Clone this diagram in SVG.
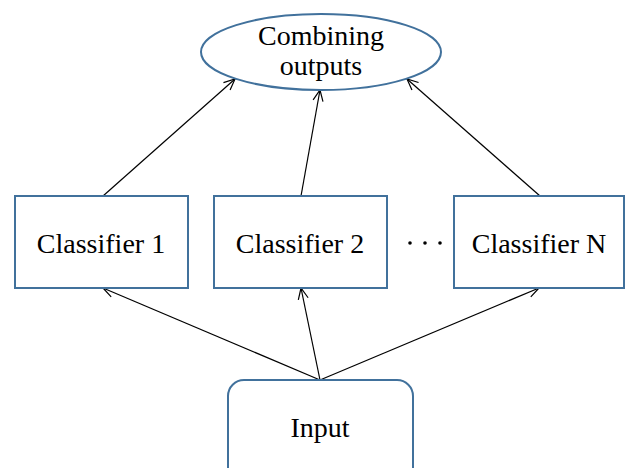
<svg xmlns="http://www.w3.org/2000/svg" width="626" height="468" viewBox="0 0 626 468">
<style>
.n{fill:#fff;stroke:#41719c;stroke-width:2}
.t{font-family:"Liberation Serif","Times New Roman",serif;font-size:28px;fill:#000;text-anchor:middle}
.c{stroke:#000;stroke-width:1.2;fill:none;marker-end:url(#a)}
</style>
<defs>
<marker id="a" markerWidth="14" markerHeight="14" refX="12" refY="6" orient="auto" markerUnits="userSpaceOnUse">
<path d="M1,1 L12,6 L1,11" fill="none" stroke="#000" stroke-width="1.2"/>
</marker>
</defs>
<rect width="626" height="468" fill="#fff"/>
<g id="connectors">
<line class="c" x1="320" y1="380" x2="103" y2="288"/>
<line class="c" x1="320" y1="380" x2="301" y2="288"/>
<line class="c" x1="320" y1="380" x2="539" y2="288"/>
<line class="c" x1="103" y1="196" x2="235" y2="79"/>
<line class="c" x1="301" y1="196" x2="320" y2="90"/>
<line class="c" x1="540" y1="196" x2="407" y2="79"/>
</g>
<g id="combining">
<ellipse class="n" cx="321" cy="52" rx="120" ry="38"/>
<text class="t" x="321" y="45">Combining</text>
<text class="t" x="321" y="75">outputs</text>
</g>
<g id="classifier1">
<rect class="n" x="15" y="196" width="173" height="92"/>
<text class="t" x="101" y="253">Classifier 1</text>
</g>
<g id="classifier2">
<rect class="n" x="214" y="196" width="173" height="92"/>
<text class="t" x="300" y="253">Classifier 2</text>
</g>
<g id="dots">
<circle cx="410" cy="243" r="1.8" fill="#000"/>
<circle cx="425" cy="243" r="1.8" fill="#000"/>
<circle cx="440" cy="243" r="1.8" fill="#000"/>
</g>
<g id="classifierN">
<rect class="n" x="454" y="196" width="170" height="92"/>
<text class="t" x="539" y="253">Classifier N</text>
</g>
<g id="input">
<rect class="n" x="228" y="380" width="185" height="110" rx="16" ry="16"/>
<text class="t" x="320" y="437">Input</text>
</g>
</svg>
